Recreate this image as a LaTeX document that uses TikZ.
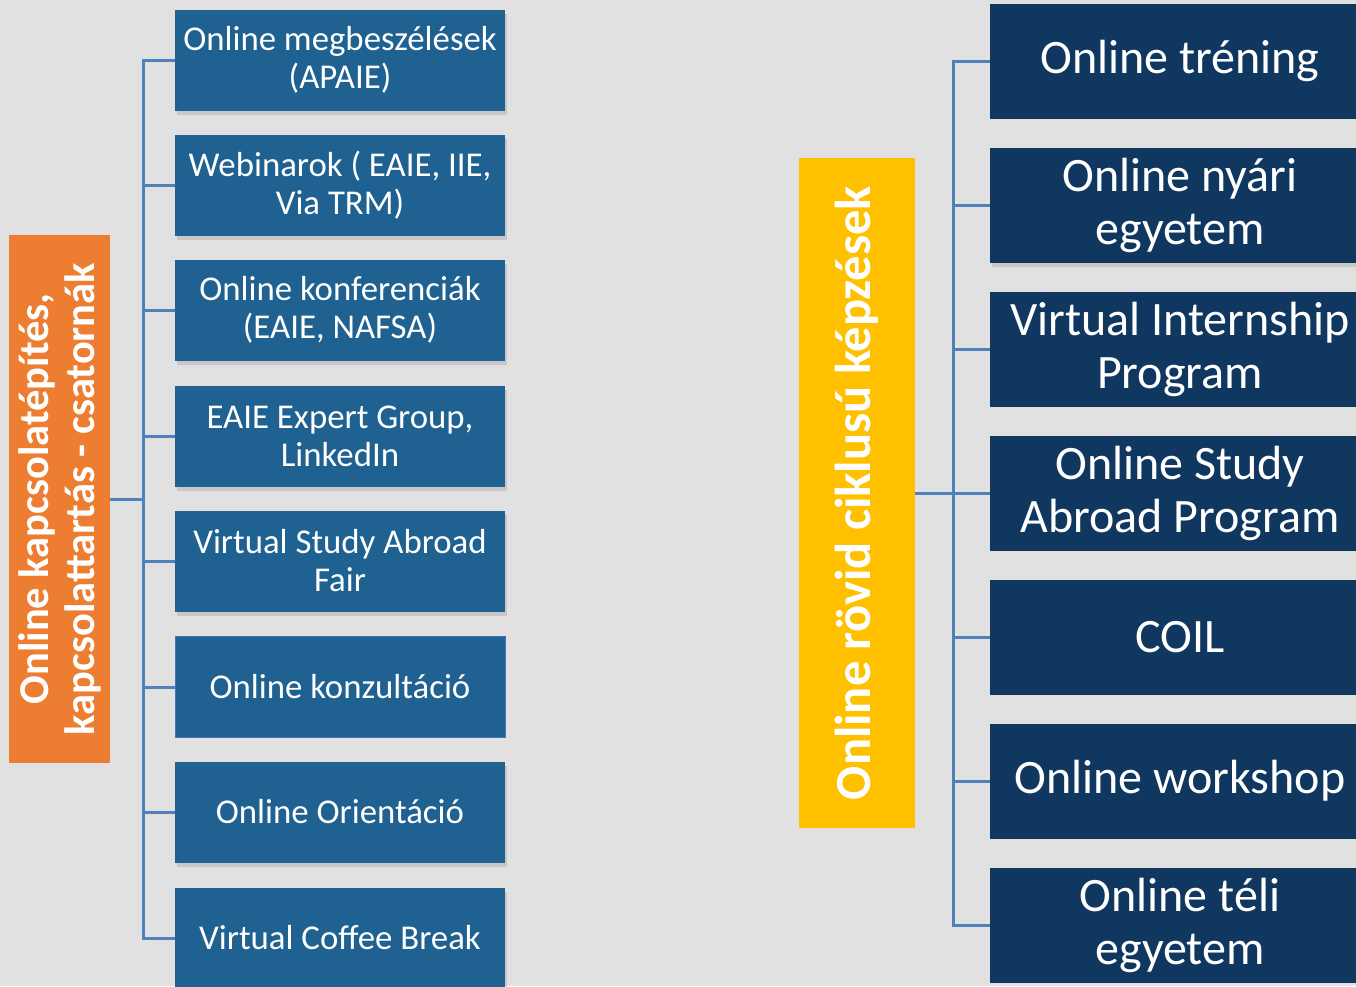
\documentclass[tikz,border=0pt]{standalone}
\usepackage{fontspec}
\setmainfont{Carlito}
\usetikzlibrary{shadows}
\definecolor{bg}{HTML}{E1E1E1}
\definecolor{lbox}{HTML}{1F6190}
\definecolor{rbox}{HTML}{10375F}
\definecolor{orng}{HTML}{ED7D31}
\definecolor{yell}{HTML}{FFC000}
\definecolor{conn}{HTML}{4F81BD}
\definecolor{bord}{HTML}{4472C4}
\tikzset{
  lstep/.style={fill=lbox, text=white, minimum width=330pt, minimum height=101pt, inner sep=0pt,
    align=center, font=\fontsize{34.8}{38}\selectfont},
  lshad/.style={drop shadow={shadow xshift=2pt, shadow yshift=-4pt, opacity=0.25}},
  rstep/.style={fill=rbox, text=white, minimum width=380pt, minimum height=115pt, inner sep=0pt,
    align=center, font=\fontsize{48}{53}\selectfont},
  wire/.style={draw=conn, line width=3pt},
}
\begin{document}
\begin{tikzpicture}[x=1pt,y=-1pt]
\useasboundingbox (0,0) rectangle (1356,986);
\clip (0,0) rectangle (1356,986);
\fill[bg] (0,0) rectangle (1356,986);

% left group
\node[fill=orng, text=white, rotate=90, minimum width=528pt, minimum height=101pt, inner sep=0pt,
  align=center, font=\bfseries\fontsize{42.5}{46}\selectfont] (OR) at (59.5,499)
  {Online kapcsolatépítés,\\kapcsolattartás - csatornák};

\node[lstep,lshad] (L1) at (340,60) {Online megbeszélések\\(APAIE)};
\node[lstep,lshad] (L2) at (340,185) {Webinarok ( EAIE, IIE,\\Via TRM)};
\node[lstep,lshad] (L3) at (340,310) {Online konferenciák\\(EAIE, NAFSA)};
\node[lstep,lshad] (L4) at (340,436) {EAIE Expert Group,\\LinkedIn};
\node[lstep,lshad] (L5) at (340,561) {Virtual Study Abroad\\Fair};
\node[lstep,draw=bord,line width=1pt] (L6) at (340,687) {Online konzultáció};
\node[lstep,lshad] (L7) at (340,812) {Online Orientáció};
\node[lstep,lshad] (L8) at (340,938) {Virtual Coffee Break};

\foreach \k in {1,...,8}{
  \draw[wire] (OR.south) -- ++(33,0) |- (L\k.west);
}

% right group
\node[fill=yell, text=white, rotate=90, minimum width=670pt, minimum height=116pt, inner sep=0pt,
  align=center, font=\bfseries\fontsize{50.5}{55}\selectfont] (YE) at (857,493)
  {Online rövid ciklusú képzések};

\node[rstep] (R1) at (1180,61) {Online tréning};
\node[rstep,drop shadow={shadow xshift=2pt, shadow yshift=-4pt, opacity=0.25}] (R2) at (1180,205) {Online nyári\\egyetem};
\node[rstep] (R3) at (1180,349) {Virtual Internship\\Program};
\node[rstep] (R4) at (1180,493) {Online Study\\Abroad Program};
\node[rstep] (R5) at (1180,637) {COIL};
\node[rstep] (R6) at (1180,781) {Online workshop};
\node[rstep] (R7) at (1180,925) {Online téli\\egyetem};

\foreach \k in {1,...,7}{
  \draw[wire] (YE.south) -- ++(38,0) |- (R\k.west);
}
\end{tikzpicture}
\end{document}
